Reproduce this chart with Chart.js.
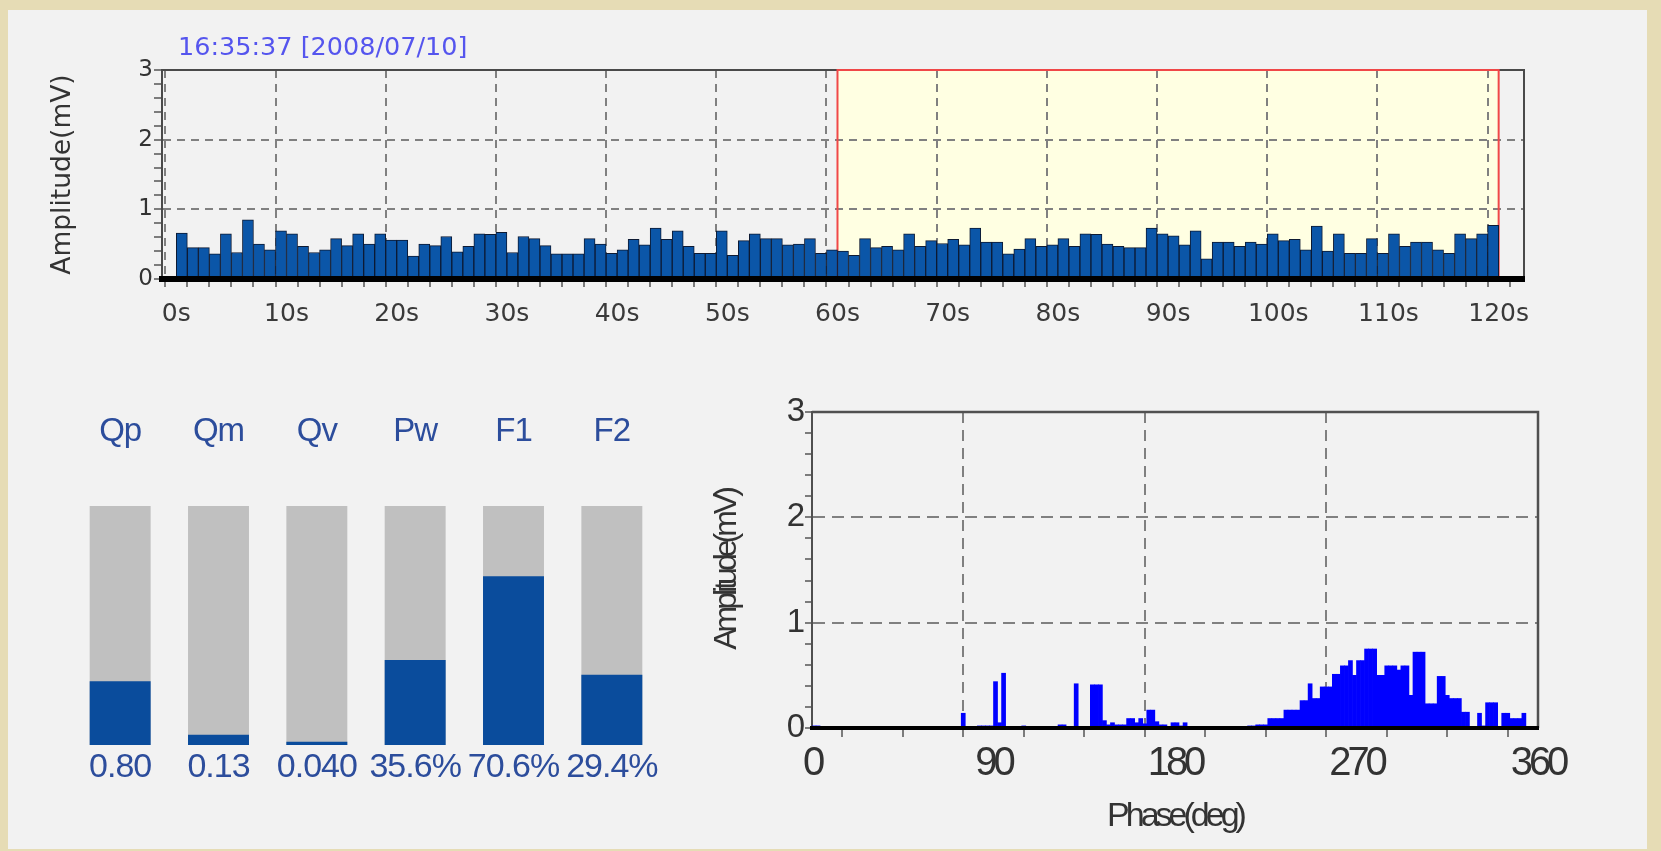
<!DOCTYPE html>
<html>
<head>
<meta charset="utf-8">
<script src="https://cdn.jsdelivr.net/npm/chart.js@4.4.1/dist/chart.umd.min.js"></script>
<style>
  html, body { margin: 0; padding: 0; }
  body {
    position: relative;
    width: 1661px;
    height: 851px;
    overflow: hidden;
    background: #e6dcb5;
  }
  #panel {
    position: absolute;
    left: 8px; top: 10px;
    width: 1639px; height: 839px;
    background: #f2f2f2;
  }
  canvas { position: absolute; }
  #timeChart { left: 0; top: 0; }
  #indexChart { left: 0; top: 360px; }
  #phaseChart { left: 660px; top: 360px; }
</style>
</head>
<body>
<div id="panel"></div>
<canvas id="timeChart" width="1661" height="350"></canvas>
<canvas id="indexChart" width="700" height="491"></canvas>
<canvas id="phaseChart" width="1001" height="491"></canvas>
<script>
// ---- data ----
const recordTime = "16:35:37 [2008/07/10]";

// peak amplitude (mV) for each 1 s slot, 0s..119s
const amplitudeBySecond = [
  0.66, 0.45, 0.45, 0.36, 0.65, 0.38, 0.85, 0.50, 0.42, 0.69,
  0.65, 0.47, 0.38, 0.42, 0.58, 0.48, 0.65, 0.50, 0.65, 0.56,
  0.56, 0.33, 0.50, 0.48, 0.61, 0.39, 0.47, 0.65, 0.64, 0.67,
  0.38, 0.61, 0.58, 0.48, 0.36, 0.36, 0.36, 0.58, 0.50, 0.37,
  0.42, 0.57, 0.49, 0.73, 0.57, 0.69, 0.47, 0.37, 0.37, 0.69,
  0.34, 0.55, 0.65, 0.58, 0.58, 0.49, 0.50, 0.58, 0.37, 0.42,
  0.40, 0.34, 0.58, 0.45, 0.47, 0.42, 0.65, 0.47, 0.55, 0.51,
  0.57, 0.49, 0.73, 0.53, 0.53, 0.36, 0.43, 0.58, 0.47, 0.49,
  0.58, 0.47, 0.65, 0.64, 0.50, 0.47, 0.45, 0.45, 0.73, 0.65,
  0.62, 0.49, 0.69, 0.29, 0.53, 0.53, 0.47, 0.53, 0.50, 0.65,
  0.55, 0.57, 0.42, 0.76, 0.40, 0.65, 0.37, 0.37, 0.58, 0.37,
  0.65, 0.47, 0.53, 0.53, 0.42, 0.37, 0.65, 0.58, 0.65, 0.77
];
const windowStart = 60;
const windowEnd = 120;

const indexNames = ["Qp", "Qm", "Qv", "Pw", "F1", "F2"];
const indexValues = [0.80, 0.13, 0.040, 35.6, 70.6, 29.4];
const indexLabels = ["0.80", "0.13", "0.040", "35.6%", "70.6%", "29.4%"];
const indexFullScale = [3, 3, 3, 100, 100, 100];
const indexTrack = [100, 100, 100, 100, 100, 100];

// phase resolved amplitude (mV), 2 degree bins from 0 to 360
const phaseBinWidth = 2;
const phaseAmplitude = [
  0.02, 0.02, 0, 0, 0, 0, 0, 0, 0, 0,
  0, 0, 0, 0, 0, 0, 0, 0, 0, 0,
  0, 0, 0, 0, 0, 0, 0, 0, 0, 0,
  0, 0, 0, 0, 0, 0, 0, 0.14, 0, 0,
  0, 0.02, 0.02, 0.02, 0.02, 0.44, 0.05, 0.52, 0, 0,
  0, 0, 0.02, 0, 0, 0, 0, 0, 0, 0,
  0, 0.03, 0.03, 0, 0, 0.42, 0, 0, 0, 0.41,
  0.41, 0.41, 0.07, 0.03, 0.05, 0.03, 0.03, 0.03, 0.09, 0.09,
  0.05, 0.09, 0.04, 0.17, 0.17, 0.06, 0.03, 0.03, 0.01, 0.05,
  0.05, 0.02, 0.05, 0, 0, 0, 0, 0, 0, 0,
  0, 0, 0, 0, 0, 0, 0, 0, 0.02, 0.02,
  0.03, 0.03, 0.03, 0.09, 0.09, 0.09, 0.09, 0.17, 0.17, 0.17,
  0.17, 0.26, 0.26, 0.42, 0.28, 0.28, 0.39, 0.39, 0.39, 0.51,
  0.51, 0.59, 0.59, 0.64, 0.50, 0.64, 0.64, 0.75, 0.75, 0.75,
  0.50, 0.50, 0.59, 0.59, 0.59, 0.55, 0.59, 0.59, 0.31, 0.72,
  0.72, 0.72, 0.23, 0.23, 0.23, 0.49, 0.49, 0.31, 0.28, 0.28,
  0.28, 0.15, 0.15, 0.01, 0.01, 0.14, 0.02, 0.24, 0.24, 0.24,
  0.01, 0.14, 0.14, 0.09, 0.09, 0.09, 0.14, 0, 0, 0
];
const phaseLabelTicks = [0, 90, 180, 270, 360];

// ---- helpers ----
const gridGray = "#808080";
const clear = "rgba(0,0,0,0)";
const isMultiple = (v, step) => Math.abs(v / step - Math.round(v / step)) < 1e-6;

const framePlugin = {
  id: "frame",
  beforeDraw(chart, args, opts) {
    // tighter glyph spacing where the original used a squeezed font
    if (opts.spacing) chart.ctx.letterSpacing = opts.spacing;
  },
  beforeDatasetsDraw(chart, args, opts) {
    if (!opts.color) return;
    const { ctx, chartArea: a } = chart;
    ctx.save();
    ctx.strokeStyle = opts.color;
    ctx.lineWidth = opts.width;
    ctx.beginPath();
    ctx.moveTo(a.left, a.top);
    ctx.lineTo(a.right, a.top);
    ctx.lineTo(a.right, a.bottom);
    ctx.stroke();
    ctx.restore();
  }
};

// highlighted analysis window and timestamp on the time chart
const windowPlugin = {
  id: "window",
  beforeDraw(chart) {
    const { ctx, chartArea: a, scales: { x } } = chart;
    const x0 = x.getPixelForValue(windowStart);
    const x1 = x.getPixelForValue(windowEnd);
    ctx.save();
    ctx.fillStyle = "#ffffe2";
    ctx.fillRect(x0, a.top, x1 - x0, a.bottom - a.top);
    ctx.fillStyle = "#5555ee";
    ctx.font = "25.5px 'DejaVu Sans'";
    ctx.textBaseline = "middle";
    ctx.fillText(recordTime, a.left + 16, a.top - 22);
    ctx.restore();
  },
  beforeDatasetsDraw(chart) {
    const { ctx, chartArea: a, scales: { x } } = chart;
    const x0 = x.getPixelForValue(windowStart);
    const x1 = x.getPixelForValue(windowEnd);
    ctx.save();
    ctx.strokeStyle = "#f04848";
    ctx.lineWidth = 2;
    ctx.beginPath();
    ctx.moveTo(x0, a.bottom);
    ctx.lineTo(x0, a.top);
    ctx.lineTo(x1, a.top);
    ctx.lineTo(x1, a.bottom);
    ctx.stroke();
    ctx.restore();
  }
};

// ---- time chart ----
new Chart(document.getElementById("timeChart"), {
  type: "bar",
  data: {
    datasets: [{
      label: "Amplitude",
      data: amplitudeBySecond.map((v, i) => ({ x: i + 0.5, y: v })),
      backgroundColor: "#0b56a8",
      borderColor: "#0d1a33",
      borderWidth: 1,
      barPercentage: 1,
      categoryPercentage: 1
    }]
  },
  options: {
    responsive: false,
    animation: false,
    devicePixelRatio: 1,
    layout: { padding: { top: 70, right: 137, left: 0, bottom: 0 } },
    plugins: {
      legend: { display: false },
      tooltip: { enabled: false },
      frame: { color: "#4a4a4a", width: 2 }
    },
    scales: {
      x: {
        type: "linear",
        min: -1.3,
        max: 122.3,
        offset: false,
        ticks: {
          stepSize: 2,
          maxTicksLimit: 100,
          autoSkip: false,
          includeBounds: false,
          maxRotation: 0,
          color: "#3a3a3a",
          font: { family: "DejaVu Sans", size: 25 },
          padding: 12,
          callback: (v) => (isMultiple(v, 10) ? v + "s" : "")
        },
        grid: {
          color: (c) => (c.tick && isMultiple(c.tick.value, 10) ? gridGray : clear),
          lineWidth: 2,
          tickColor: "#555",
          tickWidth: 1.5,
          tickLength: 8
        },
        border: { color: "#000", width: 6, dash: [8, 6], z: 1 },
        afterFit: (s) => { s.height = 71; }
      },
      y: {
        min: 0,
        max: 3,
        ticks: {
          stepSize: 0.2,
          maxTicksLimit: 100,
          autoSkip: false,
          color: "#333",
          font: { family: "DejaVu Sans", size: 23 },
          padding: 1,
          callback: (v) => (isMultiple(v, 1) ? String(Math.round(v)) : "")
        },
        grid: {
          color: (c) => {
            const v = c.tick ? c.tick.value : 0;
            return isMultiple(v, 1) && v > 0.5 && v < 2.5 ? gridGray : clear;
          },
          lineWidth: 2,
          tickColor: "#555",
          tickWidth: 1.5,
          tickLength: 8
        },
        border: { color: "#4a4a4a", width: 2, dash: [8, 6] },
        title: {
          display: true,
          text: "Amplitude(mV)",
          color: "#333",
          font: { family: "DejaVu Sans", size: 26.5 },
          padding: { top: 47, bottom: 0 }
        },
        afterFit: (s) => { s.width = 162; }
      }
    }
  },
  plugins: [framePlugin, windowPlugin]
});

// ---- index bars ----
new Chart(document.getElementById("indexChart"), {
  type: "bar",
  data: {
    labels: indexLabels,
    datasets: [
      {
        label: "level",
        data: indexValues.map((v, i) => (v / indexFullScale[i]) * 100),
        backgroundColor: "#0a4c9c",
        grouped: false,
        order: 0
      },
      {
        label: "track",
        data: indexTrack,
        backgroundColor: "#c0c0c0",
        grouped: false,
        order: 1
      }
    ]
  },
  options: {
    responsive: false,
    animation: false,
    devicePixelRatio: 1,
    layout: { padding: { left: 71, right: 39, top: 0, bottom: 0 } },
    datasets: { bar: { categoryPercentage: 1, barPercentage: 0.62 } },
    plugins: {
      legend: { display: false },
      tooltip: { enabled: false },
      frame: { spacing: "-1px" }
    },
    scales: {
      x: {
        ticks: {
          color: "#2c4d9c",
          font: { family: "Liberation Sans", size: 34 },
          padding: 2,
          maxRotation: 0,
          autoSkip: false
        },
        grid: { display: false, drawTicks: false },
        border: { display: false },
        afterFit: (s) => { s.height = 106; }
      },
      x2: {
        type: "category",
        position: "top",
        labels: indexNames,
        ticks: {
          color: "#2c4d9c",
          font: { family: "Liberation Sans", size: 33 },
          padding: 54,
          maxRotation: 0,
          autoSkip: false
        },
        grid: { display: false, drawTicks: false },
        border: { display: false },
        afterFit: (s) => { s.height = 146; }
      },
      y: { display: false, min: 0, max: 100 }
    }
  },
  plugins: [framePlugin]
});

// ---- phase resolved chart ----
new Chart(document.getElementById("phaseChart"), {
  type: "bar",
  data: {
    datasets: [{
      label: "Phase amplitude",
      data: phaseAmplitude.map((v, i) => ({ x: i * phaseBinWidth + phaseBinWidth / 2, y: v })),
      backgroundColor: "#0000ff",
      borderWidth: 0,
      barPercentage: 1,
      categoryPercentage: 1
    }]
  },
  options: {
    responsive: false,
    animation: false,
    devicePixelRatio: 1,
    layout: { padding: { top: 52, right: 123, left: 0, bottom: 0 } },
    plugins: {
      legend: { display: false },
      tooltip: { enabled: false },
      frame: { color: "#505050", width: 2.5, spacing: "-4px" }
    },
    scales: {
      x: {
        type: "linear",
        min: 0,
        max: 360,
        offset: false,
        ticks: {
          stepSize: 30,
          autoSkip: false,
          maxRotation: 0,
          color: "#333",
          font: { family: "Liberation Sans", size: 40 },
          padding: 3,
          callback: (v) => (phaseLabelTicks.includes(v) ? String(v) : "")
        },
        grid: {
          color: (c) => {
            const v = c.tick ? c.tick.value : 0;
            return isMultiple(v, 90) && v > 0 && v < 360 ? gridGray : clear;
          },
          lineWidth: 2,
          tickColor: "#555",
          tickWidth: 1.5,
          tickLength: 9
        },
        border: { color: "#000", width: 4, dash: [11, 7], z: 1 },
        title: {
          display: true,
          text: "Phase(deg)",
          color: "#333",
          font: { family: "Liberation Sans", size: 34 },
          padding: { top: 0, bottom: 14 }
        },
        afterFit: (s) => { s.height = 123; }
      },
      y: {
        min: 0,
        max: 3,
        ticks: {
          stepSize: 0.2,
          maxTicksLimit: 100,
          autoSkip: false,
          color: "#333",
          font: { family: "Liberation Sans", size: 33 },
          padding: 4,
          callback: (v) => (isMultiple(v, 1) ? String(Math.round(v)) : "")
        },
        grid: {
          color: (c) => {
            const v = c.tick ? c.tick.value : 0;
            return isMultiple(v, 1) && v > 0.5 && v < 2.5 ? gridGray : clear;
          },
          lineWidth: 2,
          tickColor: "#555",
          tickWidth: 1.5,
          tickLength: 7
        },
        border: { color: "#505050", width: 2, dash: [12, 7] },
        title: {
          display: true,
          text: "Amplitude(mV)",
          color: "#333",
          font: { family: "Liberation Sans", size: 32 },
          padding: { top: 48, bottom: 0 }
        },
        afterFit: (s) => { s.width = 152; }
      }
    }
  },
  plugins: [framePlugin]
});
</script>
</body>
</html>
